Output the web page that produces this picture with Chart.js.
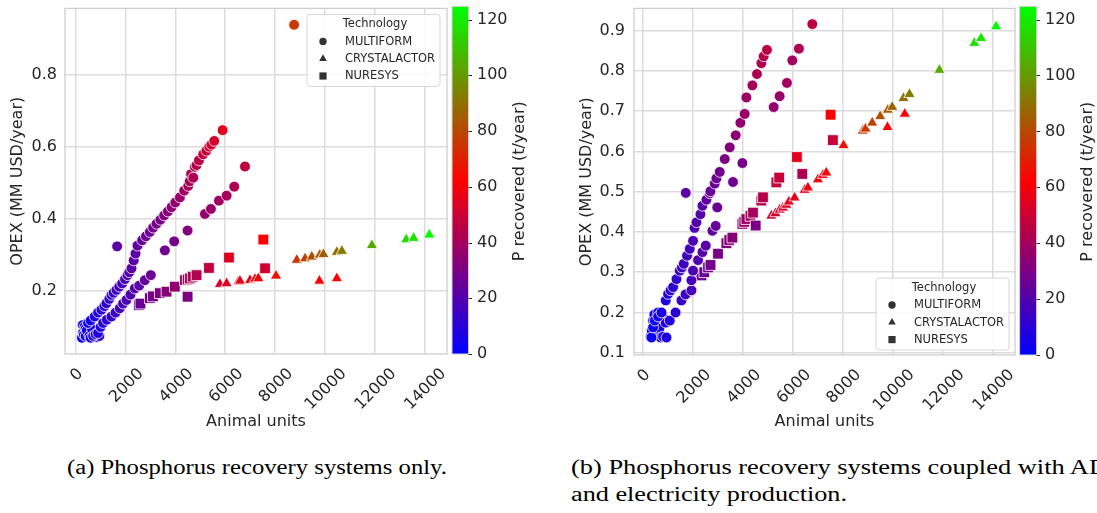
<!DOCTYPE html>
<html><head><meta charset="utf-8">
<script src="https://cdn.jsdelivr.net/npm/chart.js@4.4.1/dist/chart.umd.min.js"></script>
<style>
html,body{margin:0;padding:0;background:#fff;width:1097px;height:513px;overflow:hidden;position:relative}
canvas{position:absolute;top:0}
#ca{left:0}
#cb{left:548px}
.cap{position:absolute;font-family:'Liberation Serif','DejaVu Serif',serif;font-size:20px;color:#000;white-space:nowrap;transform-origin:0 50%;line-height:22px}
</style></head><body>
<canvas id="ca" width="548" height="440"></canvas>
<canvas id="cb" width="549" height="440"></canvas>
<div class="cap" id="capa" style="left:67px;top:456px">(a) Phosphorus recovery systems only.</div>
<div class="cap" id="capb1" style="left:571px;top:456px">(b) Phosphorus recovery systems coupled with AD</div>
<div class="cap" id="capb2" style="left:571px;top:483px">and electricity production.</div>
<script>
// ---------- data ----------
const X_TICKS = [0,2000,4000,6000,8000,10000,12000,14000];
const A_Y_TICKS = [0.2,0.4,0.6,0.8];
const B_Y_TICKS = [0.1,0.2,0.3,0.4,0.5,0.6,0.7,0.8,0.9];
const CB_TICKS = [0,20,40,60,80,100,120];
const CB_MAX = 124;
const X_TITLE = 'Animal units';
const Y_TITLE = 'OPEX (MM USD/year)';
const CB_TITLE = 'P recovered (t/year)';
const LEGEND_TITLE = 'Technology';
const TECHS = ['MULTIFORM','CRYSTALACTOR','NURESYS'];

// panel (a): phosphorus recovery systems only
const A_MULTI_X = [250,280,300,330,350,400,400,450,550,600,650,850,950,
  495,600,764,900,1033,1150,1234,1350,1436,1520,1636,1750,1864,1980,2079,2150,2240,2330,2401,2480,2668,2820,2977,3110,3246,3400,3553,3700,3850,4000,4183,4357,4518,4580,4631,4720,4787,4850,4948,5121,5250,5363,5450,5564,5900,
  700,800,897,1000,1098,1250,1436,1600,1770,1900,2039,2200,2373,2550,2775,3017,
  3580,3955,4492,5189,5430,5752,6060,6367,6798,
  1663,8770];
const A_MULTI_Y = [0.070,0.105,0.085,0.078,0.100,0.095,0.075,0.090,0.075,0.070,0.095,0.072,0.075,
  0.111,0.118,0.129,0.140,0.148,0.158,0.166,0.178,0.189,0.195,0.203,0.212,0.221,0.233,0.244,0.252,0.263,0.285,0.304,0.326,0.341,0.352,0.364,0.376,0.387,0.398,0.410,0.421,0.433,0.446,0.460,0.479,0.492,0.505,0.525,0.515,0.545,0.550,0.563,0.580,0.590,0.601,0.607,0.617,0.647,
  0.075,0.080,0.083,0.100,0.111,0.120,0.129,0.140,0.152,0.165,0.175,0.190,0.207,0.215,0.230,0.244,
  0.313,0.338,0.368,0.414,0.428,0.451,0.465,0.490,0.546,
  0.324,0.940];
const A_MULTI_P = [2,2,2,3,3,3,3,3,4,5,5,7,8,
  4,5,7,8,9,10,11,12,13,14,15,16,17,18,19,20,21,22,22,23,25,26,27,28,29,30,31,33,34,35,37,39,40,41,41,42,44,44,45,47,48,49,50,51,55,
  6,7,8,9,10,11,13,14,16,17,18,19,21,22,24,26,
  27,29,32,36,37,39,40,42,46,
  22,76];

const A_NURE_X = [2534,2600,2977,3100,3379,3648,3982,4385,4500,4585,4700,4853,5350,6154,7535,7603,4492];
const A_NURE_Y = [0.161,0.165,0.180,0.185,0.194,0.198,0.212,0.230,0.232,0.235,0.240,0.244,0.264,0.293,0.343,0.263,0.184];
const A_NURE_P = [26,26,28,29,31,33,35,39,40,41,42,43,47,54,62,50,30];

const A_CRYS_X = [5792,6060,6530,6597,7000,7200,7335,8045,8878,9212,9481,9800,9949,10487,10688,9787,10487,11894,13274,13570,14200];
const A_CRYS_Y = [0.219,0.221,0.226,0.228,0.230,0.233,0.235,0.242,0.286,0.290,0.295,0.300,0.302,0.308,0.311,0.228,0.235,0.327,0.343,0.347,0.356];
const A_CRYS_P = [52,53,56,56,58,59,60,66,75,78,81,83,85,89,91,61,61,103,115,117,123];

// panel (b): coupled with AD and electricity production
const B_MULTI_X = [300,350,400,450,500,550,600,650,700,800,850,900,
  336,400,468,600,736,908,1000,1100,1200,1336,1468,1550,1628,1760,1868,2000,2060,2136,2296,2376,2536,2668,2696,2868,2936,3068,3268,3468,3708,3896,4068,4136,4376,4560,4736,4828,4960,
  936,1068,1300,1536,1700,1936,1936,2000,2200,2376,2508,2776,2908,2970,
  3600,3976,5228,5468,5760,5976,6240,6776,
  1708];
const B_MULTI_Y = [0.140,0.155,0.180,0.195,0.145,0.170,0.200,0.160,0.138,0.140,0.185,0.175,
  0.138,0.163,0.180,0.190,0.200,0.230,0.246,0.255,0.263,0.283,0.304,0.312,0.321,0.341,0.358,0.378,0.410,0.424,0.444,0.465,0.480,0.496,0.501,0.520,0.533,0.549,0.581,0.610,0.640,0.671,0.693,0.734,0.764,0.792,0.819,0.836,0.852,
  0.138,0.180,0.200,0.230,0.245,0.255,0.280,0.304,0.330,0.350,0.366,0.403,0.415,0.461,
  0.524,0.571,0.710,0.737,0.770,0.826,0.855,0.916,
  0.497];
const B_MULTI_P = [2,2,3,3,4,4,5,5,6,7,7,8,
  3,3,4,5,6,8,9,10,11,12,13,14,15,16,17,19,19,20,21,22,23,25,25,26,27,28,30,32,34,36,37,38,40,42,43,44,45,
  8,9,11,13,15,17,17,18,19,21,22,24,25,26,
  27,29,36,37,39,40,42,46,
  22];

const B_NURE_X = [2336,2450,2600,2700,3000,3336,3450,3576,3976,4050,4136,4300,4400,4508,4736,4800,5336,5450,6160,6376,7508,7600];
const B_NURE_Y = [0.292,0.300,0.312,0.318,0.346,0.372,0.380,0.386,0.420,0.425,0.432,0.440,0.448,0.416,0.478,0.486,0.523,0.535,0.586,0.544,0.691,0.628];
const B_NURE_P = [26,26,27,28,29,31,32,33,36,37,38,39,40,30,43,44,47,48,55,42,62,48];

const B_CRYS_X = [5136,5300,5468,5600,5736,5840,6068,6468,6600,7000,7200,7336,8028,8800,8908,9176,9496,9800,9976,10428,10668,9788,10480,11868,13268,13536,14136];
const B_CRYS_Y = [0.440,0.446,0.455,0.460,0.467,0.475,0.485,0.504,0.510,0.530,0.541,0.547,0.615,0.651,0.656,0.671,0.687,0.703,0.710,0.732,0.742,0.660,0.693,0.802,0.869,0.881,0.910];
const B_CRYS_P = [50,51,52,53,54,55,56,57,58,59,60,61,66,74,75,78,81,84,86,90,92,61,61,103,116,118,123];

// ---------- helpers ----------
const TEXT = '#262626';
const FONT = 'DejaVu Sans';
function brg(p){
  const t = Math.max(0, Math.min(1, p / CB_MAX));
  let r, g, b;
  if (t < 0.5) { r = 2*t; g = 0; b = 1 - 2*t; } else { r = 2 - 2*t; g = 2*t - 1; b = 0; }
  return 'rgb(' + Math.round(r*255) + ',' + Math.round(g*255) + ',' + Math.round(b*255) + ')';
}
function ds(label, xs, ys, ps, style, radius){
  return {label: label, data: xs.map((x,i)=>({x:x, y:ys[i]})), pointStyle: style, pointRadius: radius,
    pointBackgroundColor: ps.map(brg), pointBorderColor: '#ffffff', pointBorderWidth: 0.8, showLine: false};
}
function marker(ctx, style, x, y){
  ctx.beginPath();
  if (style === 'circle') { ctx.arc(x, y, 3.7, 0, Math.PI*2); }
  else if (style === 'triangle') { const r = 4.4; ctx.moveTo(x, y - r); ctx.lineTo(x + r*0.866, y + r*0.5); ctx.lineTo(x - r*0.866, y + r*0.5); ctx.closePath(); }
  else { ctx.rect(x - 3.6, y - 3.6, 7.2, 7.2); }
  ctx.fill();
}
function noPad(s){ s.paddingTop = 0; s.paddingBottom = 0; s.paddingLeft = 0; s.paddingRight = 0; }
function extras(cfg){
  return {id: 'extras', afterDraw(chart){
    const ctx = chart.ctx, a = chart.chartArea;
    ctx.save();
    // frame
    ctx.strokeStyle = '#cdcdcd'; ctx.lineWidth = 1.25;
    ctx.strokeRect(a.left, a.top, a.right - a.left, a.bottom - a.top);
    // x tick labels, rotated 45 deg and centred on the tick (matplotlib style)
    const xs = chart.scales.x;
    ctx.font = '16px "' + FONT + '"'; ctx.fillStyle = TEXT;
    xs.ticks.forEach(t => {
      const lab = String(t.value);
      const W = ctx.measureText(lab).width;
      const px = xs.getPixelForValue(t.value);
      const cy = a.bottom + 12 + (W + 11.6) * 0.35355;
      ctx.save(); ctx.translate(px, cy); ctx.rotate(-Math.PI/4);
      ctx.textAlign = 'center'; ctx.textBaseline = 'alphabetic'; ctx.fillText(lab, 0, 5.8);
      ctx.restore();
    });
    // colorbar
    const s = chart.scales.cb;
    const x0 = a.right + cfg.cbGap, w = cfg.cbW;
    const yTop = s.getPixelForValue(CB_MAX) - 2, yBot = s.getPixelForValue(0);
    const g = ctx.createLinearGradient(0, yBot, 0, yTop);
    g.addColorStop(0, 'rgb(0,0,255)'); g.addColorStop(0.5, 'rgb(255,0,0)'); g.addColorStop(1, 'rgb(0,255,0)');
    ctx.fillStyle = g; ctx.fillRect(x0, yTop, w, yBot - yTop);
    ctx.strokeStyle = '#d0d0d0'; ctx.lineWidth = 1; ctx.strokeRect(x0, yTop, w, yBot - yTop);
    ctx.strokeStyle = TEXT; ctx.lineWidth = 1;
    s.ticks.forEach(t => { const y = Math.round(s.getPixelForValue(t.value)) + 0.5; ctx.beginPath(); ctx.moveTo(x0 + w, y); ctx.lineTo(x0 + w + 3.5, y); ctx.stroke(); });
    // colorbar title
    ctx.save(); ctx.translate(cfg.cbLabelX, (a.top + a.bottom)/2); ctx.rotate(-Math.PI/2);
    ctx.fillStyle = TEXT; ctx.font = '16px "' + FONT + '"'; ctx.textAlign = 'center'; ctx.textBaseline = 'middle';
    ctx.fillText(CB_TITLE, 0, 0); ctx.restore();
    // legend
    const bw = 133, bh = 72;
    const bx = a.right - cfg.legRight - bw;
    const by = cfg.legTop !== undefined ? a.top + cfg.legTop : a.bottom - cfg.legBottom - bh;
    ctx.beginPath();
    if (ctx.roundRect) ctx.roundRect(bx, by, bw, bh, 3); else ctx.rect(bx, by, bw, bh);
    ctx.fillStyle = 'rgba(255,255,255,0.85)'; ctx.fill();
    ctx.strokeStyle = '#d6d6d6'; ctx.lineWidth = 1; ctx.stroke();
    ctx.fillStyle = TEXT; ctx.font = '11.5px "' + FONT + '"'; ctx.textBaseline = 'middle';
    ctx.textAlign = 'center'; ctx.fillText(LEGEND_TITLE, bx + 68, by + 10);
    const styles = ['circle','triangle','rect'];
    TECHS.forEach((t,i) => {
      const y = by + 27 + i*17.3;
      ctx.fillStyle = '#333333'; marker(ctx, styles[i], bx + 16, y);
      ctx.fillStyle = TEXT; ctx.textAlign = 'left'; ctx.fillText(t, bx + 38, y + 0.5);
    });
    ctx.restore();
  }};
}
function makeChart(id, cfg){
  const tickFont = {family: FONT, size: 16};
  return new Chart(document.getElementById(id), {
    type: 'scatter',
    data: {datasets: [
      ds(TECHS[0], cfg.mx, cfg.my, cfg.mp, 'circle', 5.4),
      ds(TECHS[2], cfg.nx, cfg.ny, cfg.np, 'rect', 7.6),
      ds(TECHS[1], cfg.cx, cfg.cy, cfg.cp, 'triangle', 6.5)
    ]},
    options: {
      responsive: false, animation: false, events: [], devicePixelRatio: 1,
      layout: {padding: {top: cfg.top, left: 0, right: 0, bottom: 0}},
      plugins: {legend: {display: false}, tooltip: {enabled: false}},
      scales: {
        x: {type: 'linear', min: cfg.xmin, max: cfg.xmax,
          afterBuildTicks: s => { s.ticks = X_TICKS.map(v => ({value: v})); },
          afterFit: s => { s.height = cfg.xh; noPad(s); },
          ticks: {display: false, font: tickFont, color: TEXT, callback: v => String(v)},
          grid: {color: '#dcdcdc', lineWidth: 1.5, drawTicks: false},
          border: {display: false},
          title: {display: true, text: X_TITLE, color: TEXT, font: tickFont, padding: {top: 0, bottom: 8.7}}},
        y: {type: 'linear', position: 'left', min: cfg.ymin, max: cfg.ymax,
          afterBuildTicks: s => { s.ticks = cfg.yticks.map(v => ({value: v})); },
          afterFit: s => { s.width = cfg.yw; noPad(s); },
          ticks: {font: tickFont, color: TEXT, padding: cfg.ypad, callback: v => Number(v).toFixed(1)},
          grid: {color: '#dcdcdc', lineWidth: 1.5, drawTicks: false},
          border: {display: false},
          title: {display: true, text: Y_TITLE, color: TEXT, font: tickFont, padding: {top: cfg.ytpad, bottom: 0}}},
        cb: {type: 'linear', position: 'right', min: 0, max: CB_MAX,
          afterBuildTicks: s => { s.ticks = CB_TICKS.map(v => ({value: v})); },
          afterFit: s => { s.width = cfg.cbw; noPad(s); },
          ticks: {font: tickFont, color: TEXT, padding: 30, callback: v => String(v)},
          grid: {display: false, drawTicks: false},
          border: {display: false}}
      }
    },
    plugins: [extras(cfg)]
  });
}

makeChart('ca', {mx: A_MULTI_X, my: A_MULTI_Y, mp: A_MULTI_P, nx: A_NURE_X, ny: A_NURE_Y, np: A_NURE_P, cx: A_CRYS_X, cy: A_CRYS_Y, cp: A_CRYS_P,
  xmin: -430, xmax: 14910, ymin: 0.0248, ymax: 0.9855, yticks: A_Y_TICKS, top: 7,
  xh: 86, yw: 65, cbw: 101, ypad: 8, ytpad: 8.7,
  cbGap: 5, cbW: 16.5, cbLabelX: 520, legRight: 7, legTop: 6});
makeChart('cb', {mx: B_MULTI_X, my: B_MULTI_Y, mp: B_MULTI_P, nx: B_NURE_X, ny: B_NURE_Y, np: B_NURE_P, cx: B_CRYS_X, cy: B_CRYS_Y, cp: B_CRYS_P,
  xmin: -365, xmax: 14894, ymin: 0.0945, ymax: 0.955, yticks: B_Y_TICKS, top: 7,
  xh: 85, yw: 86, cbw: 82, ypad: 9, ytpad: 29.1,
  cbGap: 4.6, cbW: 17, cbLabelX: 539.7, legRight: 6, legBottom: 5});

// caption width fitting (the reference's first (b) line runs past the right edge)
function fitCaps(){
  const targets = {capa: 380, capb1: 537, capb2: 276};
  Object.keys(targets).forEach(id => {
    const el = document.getElementById(id);
    el.style.transform = 'none';
    const k = targets[id] / el.getBoundingClientRect().width;
    el.style.transform = 'scaleX(' + k + ')';
  });
}
fitCaps();
if (document.fonts && document.fonts.ready) document.fonts.ready.then(fitCaps);
</script>
</body></html>
